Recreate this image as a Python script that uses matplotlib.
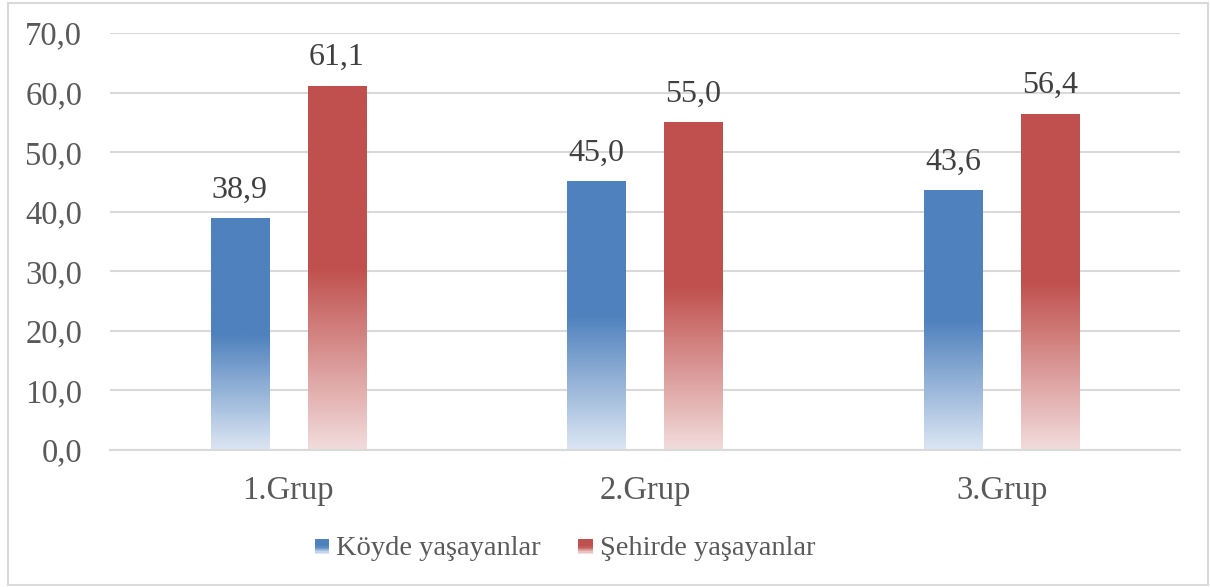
import numpy as np
import matplotlib
matplotlib.use("Agg")
import matplotlib.pyplot as plt
from matplotlib.patches import Rectangle
from matplotlib.legend_handler import HandlerBase
from matplotlib.colors import to_rgba

categories = ["1.Grup", "2.Grup", "3.Grup"]
koy = [38.9, 45.0, 43.6]
sehir = [61.1, 55.0, 56.4]
series_names = ["Köyde yaşayanlar", "Şehirde yaşayanlar"]
yticks = [0, 10, 20, 30, 40, 50, 60, 70]

blue = "#4f81bd"
red = "#c0504d"
blue_light = "#dce6f3"
red_light = "#f2dcdc"

plt.rcParams['font.family'] = ['Liberation Serif', 'DejaVu Serif']

fig = plt.figure(figsize=(12.10, 5.87), dpi=100)
ax = fig.add_axes([110/1210, 1-450/587, 1070/1210, 417/587])

def grad_array(c_top, c_bot, n=200, solid_frac=0.5):
    top = np.array(to_rgba(c_top))
    bot = np.array(to_rgba(c_bot))
    t = np.linspace(0, 1, n)  # 0 bottom -> 1 top
    f = np.clip(t / (1 - solid_frac), 0, 1)
    arr = bot[None, :] * (1 - f[:, None]) + top[None, :] * f[:, None]
    return arr[:, None, :]

x = np.arange(len(categories))
w = 0.163
off = 0.136
bars1 = ax.bar(x - off, koy, w, color="none", zorder=2)
bars2 = ax.bar(x + off, sehir, w, color="none", zorder=2)

for bars, ct, cb in [(bars1, blue, blue_light), (bars2, red, red_light)]:
    for b in bars:
        bx, by, bw, bh = b.get_x(), b.get_y(), b.get_width(), b.get_height()
        ax.imshow(grad_array(ct, cb), extent=(bx, bx + bw, by, by + bh),
                  origin='lower', aspect='auto', zorder=2, interpolation='bilinear')

def fmt(v):
    return f"{v:.1f}".replace('.', ',')

for vals, xs in [(koy, x - off), (sehir, x + off)]:
    for xi, v in zip(xs, vals):
        ax.annotate(fmt(v), (xi, v), xytext=(0, 10), textcoords='offset points',
                    ha='center', va='bottom', fontsize=23, color='#404040')

ax.set_xlim(-0.5, 2.5)
ax.set_ylim(0, 70)
ax.set_yticks(yticks)
ax.set_yticklabels([fmt(t) for t in yticks], fontsize=23.5, color='#595959')
ax.set_xticks(x)
ax.set_xticklabels(categories, fontsize=23.5, color='#595959')
ax.tick_params(axis='y', length=0, pad=20)
ax.tick_params(axis='x', length=0, pad=18)
ax.grid(axis='y', color='#d9d9d9', linewidth=1.5, zorder=0)
ax.set_axisbelow(True)
for s in ['top', 'right', 'left']:
    ax.spines[s].set_visible(False)
ax.spines['bottom'].set_color('#d9d9d9')
ax.spines['bottom'].set_linewidth(1.5)

class GradHandler(HandlerBase):
    def __init__(self, ct, cb):
        super().__init__()
        self.ct, self.cb = ct, cb
    def create_artists(self, legend, orig_handle, xdescent, ydescent, width, height, fontsize, trans):
        size = width
        x0 = xdescent
        y0 = -ydescent + (height - size) / 2 - 1
        n = 12
        arts = []
        g = grad_array(self.ct, self.cb, n=n, solid_frac=0.5)[:, 0, :]
        for i in range(n):
            r = Rectangle((x0, y0 + size * i / n), size, size / n + 0.3,
                          facecolor=g[i], edgecolor='none', transform=trans)
            arts.append(r)
        return arts

h1 = Rectangle((0, 0), 1, 1)
h2 = Rectangle((0, 0), 1, 1)
leg = fig.legend([h1, h2], series_names, loc='center', bbox_to_anchor=(565/1210, 1-548/587),
                 ncol=2, frameon=False, fontsize=20.5, labelcolor='#595959',
                 handler_map={h1: GradHandler(blue, blue_light), h2: GradHandler(red, red_light)},
                 handlelength=0.52, handletextpad=0.25, columnspacing=1.3)

fig.patches.append(Rectangle((8/1210, 2/587), 1200/1210, 582/587, transform=fig.transFigure,
                             facecolor='none', edgecolor='#d9d9d9', linewidth=1.5))

fig.savefig("out.png", dpi=100)
